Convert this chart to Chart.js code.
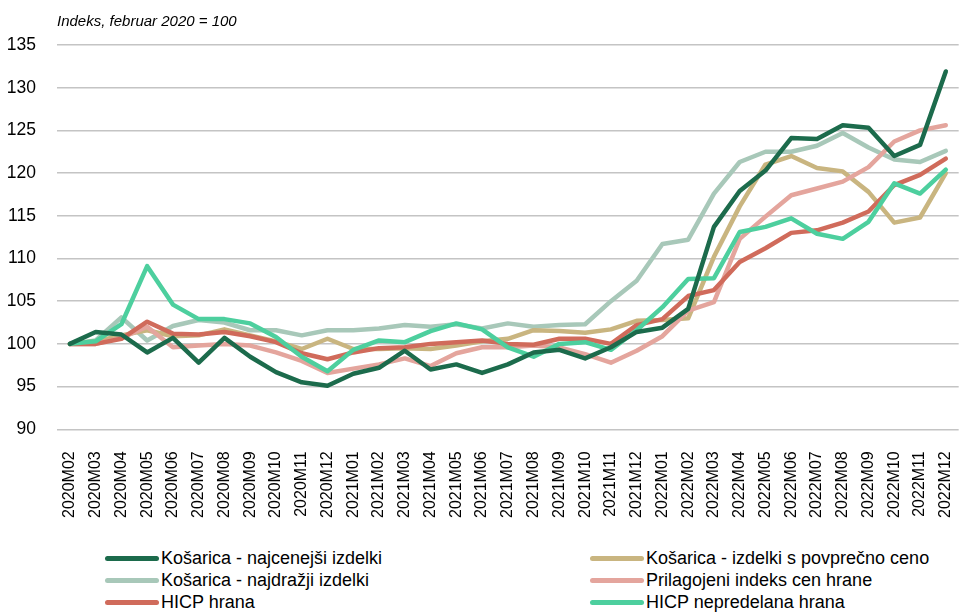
<!DOCTYPE html>
<html>
<head>
<meta charset="utf-8">
<script src="https://cdn.jsdelivr.net/npm/chart.js@4"></script>
<style>
  html, body { margin: 0; padding: 0; background: #fff; overflow: hidden; }
  #wrap { position: relative; width: 959px; height: 614px; overflow: hidden; }
  #chartBox { position: absolute; left: 0; top: 0; width: 979px; height: 532px; }
  #legend {
    position: absolute; left: 105px; top: 547px; width: 850px;
    display: grid; grid-template-columns: 485px 360px; row-gap: 0px;
    font-family: "Liberation Sans Narrow", "Liberation Sans", Arial, sans-serif;
    font-size: 18px; color: #000;
  }
  .item { display: flex; align-items: center; height: 22px; white-space: nowrap; }
  .swatch { width: 54px; height: 5px; border-radius: 3px; margin-right: 2px; }
</style>
</head>
<body>
<div id="wrap">
  <div id="chartBox"><canvas id="chart"></canvas></div>
  <div id="legend"></div>
</div>
<script>
const labels = [
  "2020M02", "2020M03", "2020M04", "2020M05", "2020M06", "2020M07", "2020M08", "2020M09",
  "2020M10", "2020M11", "2020M12", "2021M01", "2021M02", "2021M03", "2021M04", "2021M05",
  "2021M06", "2021M07", "2021M08", "2021M09", "2021M10", "2021M11", "2021M12", "2022M01",
  "2022M02", "2022M03", "2022M04", "2022M05", "2022M06", "2022M07", "2022M08", "2022M09",
  "2022M10", "2022M11", "2022M12",
];

const najcenejsi = [
  100, 101.4, 101.1, 99.0, 100.7, 97.8, 100.7, 98.5, 96.7, 95.5, 95.1, 96.5,
  97.2, 99.2, 97.0, 97.6, 96.6, 97.6, 99.0, 99.3, 98.3, 99.6, 101.4, 101.9,
  104.1, 113.7, 117.9, 120.3, 124.1, 124.0, 125.6, 125.3, 122.0, 123.3, 131.9,
];
const povprecno = [
  100, 100.3, 101.0, 101.6, 100.9, 101.0, 101.7, 101.0, 100.3, 99.4, 100.6, 99.4,
  99.4, 99.5, 99.4, 99.8, 100.3, 100.6, 101.6, 101.5, 101.3, 101.7, 102.7, 102.8,
  103.0, 110.2, 116.1, 121.0, 122.0, 120.6, 120.2, 117.8, 114.2, 114.8, 120.0,
];
const najdrazji = [
  100, 100.4, 103.1, 100.4, 102.1, 102.8, 102.5, 101.6, 101.6, 101.0, 101.6, 101.6,
  101.8, 102.2, 102.0, 102.3, 101.8, 102.4, 102.0, 102.2, 102.3, 105.0, 107.4, 111.7,
  112.2, 117.6, 121.3, 122.5, 122.5, 123.2, 124.7, 123.0, 121.6, 121.3, 122.6,
];
const prilagojeni = [
  100, 100.0, 100.7, 102.0, 99.6, 99.8, 100.0, 99.8, 99.0, 98.0, 96.6, 97.1,
  97.6, 98.3, 97.4, 98.9, 99.6, 99.6, 99.8, 99.6, 98.8, 97.8, 99.2, 100.9,
  103.9, 104.9, 112.3, 114.9, 117.4, 118.2, 119.0, 120.7, 123.7, 125.0, 125.6,
];
const hicpHrana = [
  100, 100.0, 100.6, 102.6, 101.2, 101.1, 101.4, 100.9, 100.2, 98.9, 98.2, 99.0,
  99.5, 99.6, 100.0, 100.2, 100.4, 100.0, 99.9, 100.6, 100.6, 100.0, 102.2, 102.9,
  105.6, 106.3, 109.6, 111.2, 113.0, 113.3, 114.2, 115.5, 118.6, 119.8, 121.7,
];
const hicpNepredelana = [
  100, 100.3, 102.3, 109.1, 104.6, 102.9, 102.9, 102.4, 100.8, 98.5, 96.8, 99.3,
  100.4, 100.2, 101.5, 102.4, 101.7, 99.6, 98.5, 100.0, 100.2, 99.3, 101.6, 104.3,
  107.6, 107.7, 113.1, 113.7, 114.7, 112.9, 112.3, 114.3, 118.8, 117.6, 120.4,
];

const yTicks = [90, 95, 100, 105, 110, 115, 120, 125, 130, 135];

const series = [
  { label: "Košarica - najcenejši izdelki", data: najcenejsi, color: "#1c6b4c", order: 1 },
  { label: "Košarica - izdelki s povprečno ceno", data: povprecno, color: "#c9b580", order: 5 },
  { label: "Košarica - najdražji izdelki", data: najdrazji, color: "#a8c8b9", order: 6 },
  { label: "Prilagojeni indeks cen hrane", data: prilagojeni, color: "#e4a59d", order: 4 },
  { label: "HICP hrana", data: hicpHrana, color: "#d06b5b", order: 3 },
  { label: "HICP nepredelana hrana", data: hicpNepredelana, color: "#4dcf9e", order: 2 },
];

// naslov nad osjo y
const axisTitle = {
  id: "axisTitle",
  afterDraw(chart) {
    const ctx = chart.ctx;
    ctx.save();
    ctx.font = "italic 15px 'Liberation Sans', Arial, sans-serif";
    ctx.fillStyle = "#000";
    ctx.textBaseline = "middle";
    ctx.fillText("Indeks, februar 2020 = 100", 57, 22);
    ctx.restore();
  },
};

new Chart(document.getElementById("chart"), {
  type: "line",
  data: {
    labels,
    datasets: series.map((s) => ({
      label: s.label,
      data: s.data,
      borderColor: s.color,
      backgroundColor: s.color,
      borderWidth: 4.5,
      pointRadius: 0,
      tension: 0,
      order: s.order,
      borderCapStyle: "round",
      borderJoinStyle: "round",
    })),
  },
  options: {
    responsive: true,
    maintainAspectRatio: false,
    animation: false,
    layout: { padding: { top: 45, right: 0, left: 0, bottom: 0 } },
    plugins: { legend: { display: false }, tooltip: { enabled: false } },
    scales: {
      x: {
        offset: true,
        grid: { display: false },
        border: { display: false },
        ticks: {
          color: "#000",
          font: { family: "'Liberation Sans', Arial, sans-serif", size: 16 },
          maxRotation: 90,
          minRotation: 90,
          autoSkip: false,
          padding: 14,
        },
      },
      y: {
        min: 90,
        max: 135,
        afterBuildTicks(axis) {
          axis.ticks = yTicks.map((v) => ({ value: v }));
        },
        afterFit(axis) {
          axis.width = 57;
        },
        grid: { color: "#c4c4c4", lineWidth: 1.5, drawTicks: false },
        border: { display: false },
        ticks: {
          color: "#000",
          font: { family: "'Liberation Sans', Arial, sans-serif", size: 17.5 },
          padding: 21,
        },
      },
    },
  },
  plugins: [axisTitle],
});

// legenda v dveh stolpcih
const legendEl = document.getElementById("legend");
for (const s of series) {
  const item = document.createElement("div");
  item.className = "item";
  item.innerHTML = `<span class="swatch" style="background:${s.color}"></span>${s.label}`;
  legendEl.appendChild(item);
}
</script>
</body>
</html>
